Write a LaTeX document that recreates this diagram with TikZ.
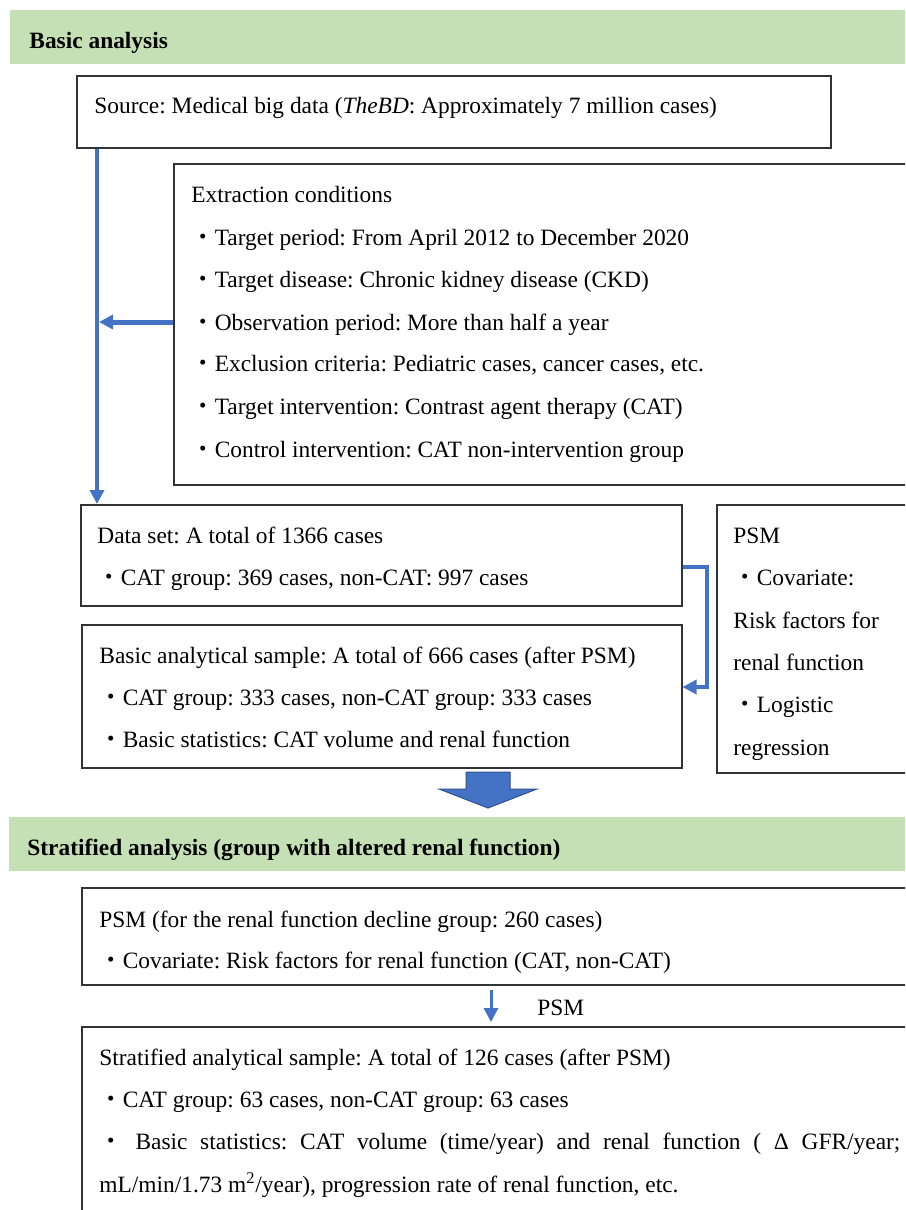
\documentclass[tikz,border=0pt]{standalone}
\usepackage{fontspec}
\setmainfont{Liberation Serif}
\newfontfamily\cjk{Noto Sans CJK JP}
\usepackage{tikz}
\usetikzlibrary{arrows.meta}
\usepackage{color,xcolor}
\definecolor{bd}{HTML}{C5E0B4}
\definecolor{ln}{HTML}{4472C4}
\definecolor{dk}{HTML}{2F528F}
\newcommand{\bul}{{\cjk ・}}
\frenchspacing

\begin{document}
\begin{tikzpicture}[x=0.5pt,y=-0.5pt,
  box/.style={draw=black!80,line width=0.75pt,anchor=north west,inner sep=0pt},
  band/.style={fill=bd,anchor=north west,inner sep=0pt,minimum width=460pt,minimum height=27pt},
  txt/.style={anchor=base west,inner sep=0pt,font=\fontsize{11.7}{14}\selectfont},
  flow/.style={color=ln,line width=2pt,-{Triangle[width=7pt,length=7pt]}}]
            \useasboundingbox (0,0) rectangle (905,1210);
            \clip (0,0) rectangle (905,1210);
            % basic analysis
            \node[band] (band1) at (10,10) {};
            \node[txt] (head1) at (29,48) {\bfseries Basic analysis};
            \node[box,minimum width=377pt,minimum height=36pt] (src) at (76,75) {};
            \node[txt] (src1) at (94,113) {Source: Medical big data (\textit{TheBD}: Approximately 7 million cases)};
            \node[box,minimum width=373.5pt,minimum height=160.5pt] (ext) at (173,163) {};
            \node[txt] (ext0) at (191,202) {Extraction conditions};
            \node[txt] (ext1) at (191,245) {\bul Target period: From April 2012 to December 2020};
            \node[txt] (ext2) at (191,287) {\bul Target disease: Chronic kidney disease (CKD)};
            \node[txt] (ext3) at (191,330) {\bul Observation period: More than half a year};
            \node[txt] (ext4) at (191,371) {\bul Exclusion criteria: Pediatric cases, cancer cases, etc.};
            \node[txt] (ext5) at (191,414) {\bul Target intervention: Contrast agent therapy (CAT)};
            \node[txt] (ext6) at (191,457) {\bul Control intervention: CAT non-intervention group};
            \node[box,minimum width=300.5pt,minimum height=50.5pt] (data) at (80,504) {};
            \node[txt] (data1) at (97,543) {Data set: A total of 1366 cases};
            \node[txt] (data2) at (97,585) {\bul CAT group: 369 cases, non-CAT: 997 cases};
            \node[box,minimum width=300pt,minimum height=71.5pt] (basic) at (81,624) {};
            \node[txt] (basic1) at (99,663) {Basic analytical sample: A total of 666 cases (after PSM)};
            \node[txt] (basic2) at (99,705) {\bul CAT group: 333 cases, non-CAT group: 333 cases};
            \node[txt] (basic3) at (99,747) {\bul Basic statistics: CAT volume and renal function};
            \node[box,minimum width=102pt,minimum height=134pt] (psm) at (716,504) {};
            \node[txt] (psm1) at (733,543) {PSM};
            \node[txt] (psm2) at (733,585) {\bul Covariate:};
            \node[txt] (psm3) at (733,628) {Risk factors for};
            \node[txt] (psm4) at (733,670) {renal function};
            \node[txt] (psm5) at (733,712) {\bul Logistic};
            \node[txt] (psm6) at (733,755) {regression};
            % connectors
            \coordinate (vx) at (97,0);
            \coordinate (oy) at (0,322);
            \coordinate (b1) at (0,567);
            \coordinate (b2) at (0,687);
            \draw[flow] (vx |- src.south) -- (vx |- data.north);
            \draw[flow,line width=2.5pt] (ext.west |- oy) -- ([xshift=1pt]vx |- oy);
            \draw[flow] (data.east |- b1) -- ++(12pt,0) |- (basic.east |- b2);
            \draw[fill=ln,draw=dk,line width=0.5pt] (466,772) -- (510,772) -- (510,789) -- (537,789)
                -- (488,808) -- (439,789) -- (466,789) -- cycle;
            % stratified analysis
            \node[band] (band2) at (9,817) {};
            \node[txt] (head2) at (27,855) {\bfseries Stratified analysis (group with altered renal function)};
            \node[box,minimum width=419.5pt,minimum height=48.5pt] (dec) at (81,887) {};
            \node[txt] (dec1) at (99,927) {PSM (for the renal function decline group: 260 cases)};
            \node[txt] (dec2) at (99,968) {\bul Covariate: Risk factors for renal function (CAT, non-CAT)};
            \node[box,minimum width=419.5pt,minimum height=102pt] (strat) at (81,1026) {};
            \node[txt] (strat1) at (99,1065) {Stratified analytical sample: A total of 126 cases (after PSM)};
            \node[txt] (strat2) at (99,1107) {\bul CAT group: 63 cases, non-CAT group: 63 cases};
            \node[txt] (strat3) at (99,1149) {\makebox[400.5pt][s]{\bul{} Basic statistics: CAT volume (time/year) and renal function ( Δ GFR/year;}};
            \node[txt] (strat4) at (99,1192) {mL/min/1.73 m\textsuperscript{2}/year), progression rate of renal function, etc.};
            \coordinate (sx) at (491,0);
            \draw[flow,line width=1.5pt,shorten <=2pt,shorten >=2pt] (sx |- dec.south) -- (sx |- strat.north);
            \node[txt] (psmlab) at (537,1015) {PSM};
          \end{tikzpicture}
\end{document}
